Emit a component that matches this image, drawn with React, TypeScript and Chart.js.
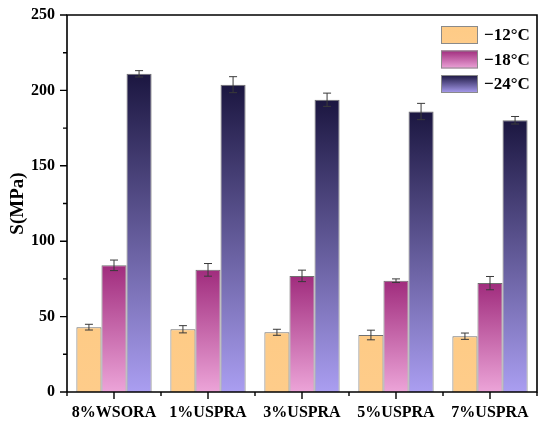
import React, { useEffect, useRef } from 'react';
import { Chart, registerables } from 'chart.js';

Chart.register(...registerables);

const categories = ['8%WSORA', '1%USPRA', '3%USPRA', '5%USPRA', '7%USPRA'];
const seriesLabels = ['−12°C', '−18°C', '−24°C'];
const values12 = [43, 41.6, 39.6, 37.8, 37];
const values18 = [84, 81, 77, 73.8, 72.2];
const values24 = [211, 203.8, 193.8, 186, 180.2];
const err12 = [1.9, 2.4, 2, 3.2, 2.1];
const err18 = [3.5, 4.2, 3.8, 1.2, 4.4];
const err24 = [2.1, 5.3, 4.4, 5.4, 2.5];

const gradients = [
  ['#fecb86', '#fecc8a'],
  ['#a02c7d', '#eca4d8'],
  ['#1b1640', '#aa9ef1'],
];

const FONT = '"Liberation Serif", "Times New Roman", serif';

function barFill(index: number) {
  return (ctx: any) => {
    const chart = ctx.chart;
    const [top, bottom] = gradients[index];
    if (!chart.chartArea || ctx.type !== 'data') return top;
    const y = chart.scales.y;
    const v = ctx.parsed ? ctx.parsed.y : ctx.raw;
    const g = chart.ctx.createLinearGradient(0, y.getPixelForValue(v), 0, y.getPixelForValue(0));
    g.addColorStop(0, top);
    g.addColorStop(1, bottom);
    return g;
  };
}

const decorPlugin = {
  id: 'decor',
  afterDatasetsDraw(chart: any) {
    const { ctx, chartArea, scales } = chart;
    const errs = [err12, err18, err24];
    ctx.save();
    // error bars
    ctx.strokeStyle = '#3a3a3a';
    ctx.lineWidth = 1;
    chart.data.datasets.forEach((ds: any, di: number) => {
      const meta = chart.getDatasetMeta(di);
      meta.data.forEach((bar: any, i: number) => {
        const v = ds.data[i];
        const e = errs[di][i];
        const y1 = scales.y.getPixelForValue(v + e);
        const y2 = scales.y.getPixelForValue(v - e);
        const x = bar.x;
        ctx.beginPath();
        ctx.moveTo(x, y1); ctx.lineTo(x, y2);
        ctx.moveTo(x - 4, y1); ctx.lineTo(x + 4, y1);
        ctx.moveTo(x - 4, y2); ctx.lineTo(x + 4, y2);
        ctx.stroke();
      });
    });
    ctx.restore();
  },
  afterDraw(chart: any) {
    const { ctx, chartArea, scales } = chart;
    const { left, right, top, bottom } = chartArea;
    ctx.save();
    ctx.strokeStyle = '#000';
    ctx.lineWidth = 1.6;
    ctx.beginPath();
    ctx.moveTo(left, bottom); ctx.lineTo(left, top); ctx.lineTo(right, top); ctx.lineTo(right, bottom); ctx.lineTo(left, bottom);
    ctx.stroke();
    ctx.lineWidth = 1.4;
    ctx.beginPath();
    // y ticks
    for (let v = 0; v <= 250; v += 25) {
      const y = scales.y.getPixelForValue(v);
      const len = v % 50 === 0 ? 7 : 4;
      ctx.moveTo(left, y); ctx.lineTo(left - len, y);
    }
    // x ticks
    const n = categories.length;
    for (let i = 0; i < n; i++) {
      const x = scales.x.getPixelForValue(i);
      ctx.moveTo(x, bottom); ctx.lineTo(x, bottom + 7);
    }
    const step = (right - left) / n;
    for (let i = 0; i <= n; i++) {
      const x = left + i * step;
      ctx.moveTo(x, bottom); ctx.lineTo(x, bottom + 4);
    }
    ctx.stroke();

    // legend
    ctx.font = `bold 17px ${FONT}`;
    ctx.textBaseline = 'middle';
    ctx.textAlign = 'left';
    seriesLabels.forEach((label, i) => {
      const sx = 441, sy = 26 + i * 24.5, sw = 37, sh = 18;
      const g = ctx.createLinearGradient(0, sy, 0, sy + sh);
      g.addColorStop(0, gradients[i][0]);
      g.addColorStop(1, gradients[i][1]);
      ctx.fillStyle = g;
      ctx.fillRect(sx, sy, sw, sh);
      ctx.strokeStyle = '#8a8a8a';
      ctx.lineWidth = 1;
      ctx.strokeRect(sx + 0.5, sy + 0.5, sw - 1, sh - 1);
      ctx.fillStyle = '#000';
      ctx.fillText(label, 484, sy + sh / 2 + 1);
    });
    ctx.restore();
  },
};

export default function App() {
  const canvasRef = useRef<HTMLCanvasElement>(null);

  useEffect(() => {
    document.body.style.margin = '0';
    if (!canvasRef.current) return;
    const makeSet = (label: string, data: number[], i: number) => ({
      label,
      data,
      backgroundColor: barFill(i),
      borderColor: '#707070',
      borderWidth: 1,
      categoryPercentage: 0.8,
      barPercentage: 1,
    });
    const chart = new Chart(canvasRef.current, {
      type: 'bar',
      data: {
        labels: categories,
        datasets: [
          makeSet(seriesLabels[0], values12, 0),
          makeSet(seriesLabels[1], values18, 1),
          makeSet(seriesLabels[2], values24, 2),
        ],
      },
      options: {
        responsive: false,
        animation: false,
        layout: { padding: { top: 15, right: 13, left: 0, bottom: 0 } },
        plugins: {
          legend: { display: false },
          tooltip: { enabled: false },
        },
        scales: {
          x: {
            grid: { display: false, drawTicks: true, tickLength: 7 },
            border: { display: false },
            ticks: {
              color: '#000',
              padding: 4,
              maxRotation: 0,
              font: { family: FONT, size: 16, weight: 'bold' },
            },
            afterFit(scale: any) { scale.height = 36; },
          },
          y: {
            min: 0,
            max: 250,
            grid: { display: false, drawTicks: true, tickLength: 7 },
            border: { display: false },
            ticks: {
              stepSize: 50,
              color: '#000',
              padding: 5,
              font: { family: FONT, size: 16, weight: 'bold' },
            },
            title: {
              display: true,
              text: 'S(MPa)',
              color: '#000',
              padding: { top: 7, bottom: 0 },
              font: { family: FONT, size: 19, weight: 'bold' },
            },
            afterFit(scale: any) { scale.width = 67; },
          },
        },
      },
      plugins: [decorPlugin],
    });
    return () => chart.destroy();
  }, []);

  return (
    <div style={{ width: 550, height: 428 }}>
      <canvas ref={canvasRef} width={550} height={428} />
    </div>
  );
}
